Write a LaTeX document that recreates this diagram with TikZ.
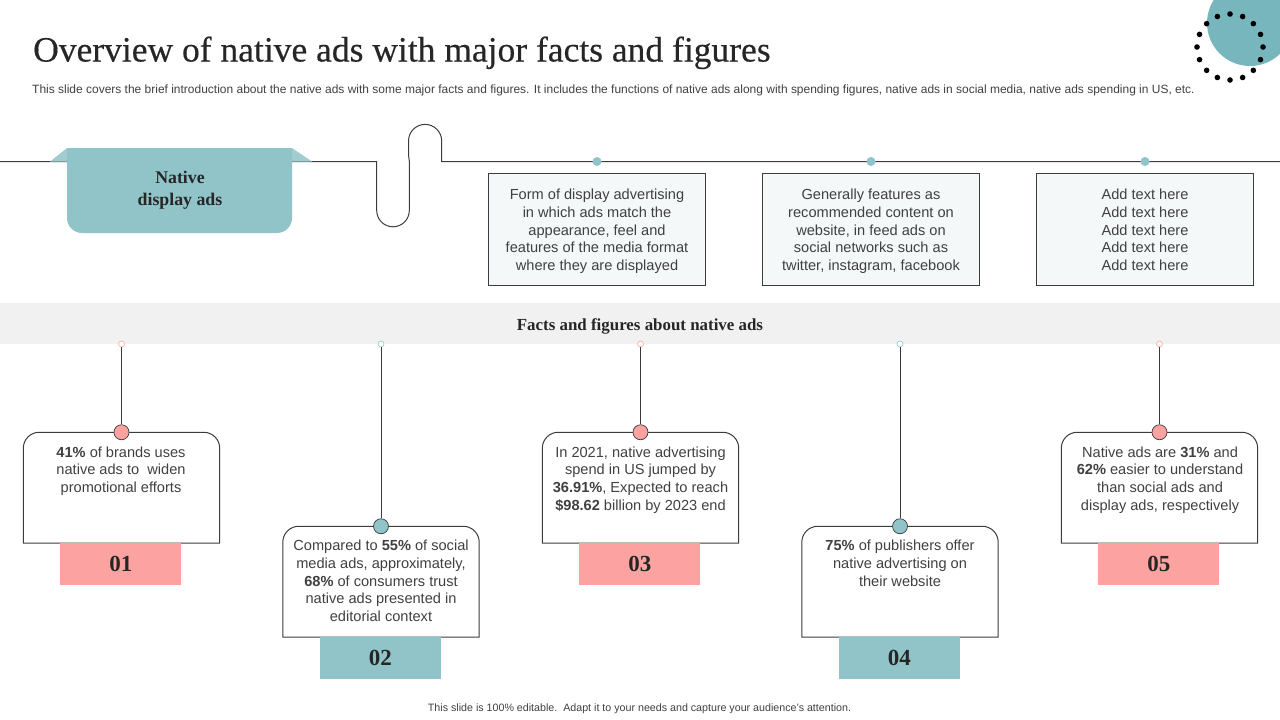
\documentclass[tikz,border=0pt]{standalone}
\usepackage{fontspec}
\setmainfont{Liberation Sans}
\newfontfamily\headfont[FakeBold=0.35]{Liberation Serif}
\newfontfamily\numfont{Liberation Serif}
\usetikzlibrary{positioning}
\definecolor{tealfill}{HTML}{90C4C8}
\definecolor{pinkfill}{HTML}{FCA3A1}
\definecolor{darkline}{HTML}{3C3C3C}
\definecolor{bodytext}{HTML}{404040}
\definecolor{headtext}{HTML}{262626}
\definecolor{bandfill}{HTML}{F1F1F1}
\definecolor{panelfill}{HTML}{F4F8F9}
\definecolor{blobfill}{HTML}{78B6BE}

\begin{document}
\begin{tikzpicture}[
x=1pt, y=-1pt,
wire/.style={draw=darkline, line width=1pt},
panel/.style={draw=darkline, fill=panelfill, line width=1pt, minimum width=217pt, minimum height=112pt, inner sep=0pt},
card/.style={minimum width=196pt, minimum height=110.5pt, inner sep=0pt},
bodynote/.style={align=center, text=bodytext, inner sep=0pt, font=\fontsize{14.6}{17.7}\selectfont},
tag/.style={minimum width=121pt, minimum height=42pt, inner sep=0pt, xshift=-0.7pt, font=\numfont\bfseries\fontsize{23}{23}\selectfont, text=headtext},
pintop/.style={circle, draw=#1, fill=white, line width=0.6pt, minimum size=6pt, inner sep=0pt},
pindot/.style={circle, draw=darkline, fill=#1, line width=0.7pt, minimum size=15pt, inner sep=0pt},
paneldot/.style={circle, fill=tealfill, minimum size=9pt, inner sep=0pt},
]
\useasboundingbox (0,0) rectangle (1280,720);

% Corner decoration
\begin{scope}
\clip (1180,0) rectangle (1280,100);
\fill[blobfill] (1250,23) circle (43);
\end{scope}
\foreach \a in {0,22.5,...,337.5}
  \fill[black] (1230,47) ++(\a:33) circle (2.8);

% Title and subtitle
\node[anchor=base west, inner sep=0pt, text=headtext, font=\headfont\fontsize{35.5}{36}\selectfont] (title) at (33,61.5) {Overview of native ads with major facts and figures};
\node[anchor=west, inner sep=0pt, text=bodytext, font=\fontsize{11.98}{14}\selectfont] (subtitle) at (32,90) {This slide covers the brief introduction about the native ads with some major facts and figures. It includes the functions of native ads along with spending figures, native ads in social media, native ads spending in US, etc.};

% Top wire
\coordinate (wirestart) at (0,161.5);
\coordinate (wireend) at (1280,161.5);
\draw[wire] (wirestart) -- (376.7,161.5) -- (376.7,210.5) arc[start angle=180, end angle=0, radius=16.3] -- (409.3,161) -- (408.5,155) -- (408.5,141) arc[start angle=180, end angle=360, radius=16.6] -- (441.7,161.5) -- (wireend);

% Ribbon
\fill[tealfill!85!white] (50,161.5) -- (67,148) -- (292,148) -- (312,161.5) -- cycle;
\fill[tealfill] (67,148) -- (292,148) -- (292,218) arc[start angle=0, end angle=90, radius=15] -- (82,233) arc[start angle=90, end angle=180, radius=15] -- cycle;
\node[align=center, text=headtext, inner sep=0pt, font=\numfont\bfseries\fontsize{17.8}{22}\selectfont] (ribbon) at (180,190.5) {Native\\display ads};

% Panels
\node[panel] (panel1) at (597,229.5) {};
\node[panel] (panel2) [right=56pt of panel1] {};
\node[panel] (panel3) [right=56pt of panel2] {};
\foreach \p in {panel1,panel2,panel3}
  \node[paneldot] at (\p.north |- wirestart) {};
\node[bodynote, anchor=north] (paneltext1) at ([yshift=-16pt]panel1.north) {Form of display advertising\\in which ads match the\\appearance, feel and\\features of the media format\\where they are displayed};
\node[bodynote, anchor=north] (paneltext2) at ([yshift=-16pt]panel2.north) {Generally features as\\recommended content on\\website, in feed ads on\\social networks such as\\twitter, instagram, facebook};
\node[bodynote, anchor=north] (paneltext3) at ([yshift=-16pt]panel3.north) {Add text here\\Add text here\\Add text here\\Add text here\\Add text here};

% Band
\fill[bandfill] (0,303) rectangle (1280,344);
\node[inner sep=0pt, text=headtext, font=\numfont\bfseries\fontsize{16.9}{17}\selectfont] (bandtitle) at (640,326) {Facts and figures about native ads};

% Cards
\node[card] (card1) at (121.5,487.7) {};
\node[card] (card2) at (381,581.7) {};
\node[card] (card3) at (640.5,487.7) {};
\node[card] (card4) at (900,581.7) {};
\node[card] (card5) at (1159.5,487.7) {};
\foreach \c in {card1,card2,card3,card4,card5}
  \draw[wire] (\c.south west) {[rounded corners=16pt] -- (\c.north west) -- (\c.north east)} -- (\c.south east) -- cycle;

% Card tags
\node[tag, fill=pinkfill] (tag1) [below=-0.5pt of card1] {01};
\node[tag, fill=tealfill] (tag2) [below=-0.5pt of card2] {02};
\node[tag, fill=pinkfill] (tag3) [below=-0.5pt of card3] {03};
\node[tag, fill=tealfill] (tag4) [below=-0.5pt of card4] {04};
\node[tag, fill=pinkfill] (tag5) [below=-0.5pt of card5] {05};

% Pins
\node[pintop=pinkfill] (top1) at (121.5,344) {};
\node[pintop=tealfill] (top2) at (381,344) {};
\node[pintop=pinkfill] (top3) at (640.5,344) {};
\node[pintop=tealfill] (top4) at (900,344) {};
\node[pintop=pinkfill] (top5) at (1159.5,344) {};
\node[pindot=pinkfill] (dot1) at (card1.north) {};
\node[pindot=tealfill] (dot2) at (card2.north) {};
\node[pindot=pinkfill] (dot3) at (card3.north) {};
\node[pindot=tealfill] (dot4) at (card4.north) {};
\node[pindot=pinkfill] (dot5) at (card5.north) {};
\foreach \i in {1,...,5}
  \draw[wire] (top\i) -- (dot\i);

% Card texts
\node[bodynote, anchor=north] (text1) at (121,446.5) {\textbf{41\%} of brands uses\\native ads to\ \ widen\\promotional efforts};
\node[bodynote, anchor=north] (text2) at (381,540) {Compared to \textbf{55\%} of social\\media ads, approximately,\\\textbf{68\%} of consumers trust\\native ads presented in\\editorial context};
\node[bodynote, anchor=north] (text3) at (640.5,446.5) {In 2021, native advertising\\spend in US jumped by\\\textbf{36.91\%}, Expected to reach\\\textbf{\$98.62} billion by 2023 end};
\node[bodynote, anchor=north] (text4) at (900,540) {\textbf{75\%} of publishers offer\\native advertising on\\their website};
\node[bodynote, anchor=north] (text5) at (1160,446.5) {Native ads are \textbf{31\%} and\\\textbf{62\%} easier to understand\\than social ads and\\display ads, respectively};

% Footer
\node[inner sep=0pt, text=bodytext, font=\fontsize{10.68}{12}\selectfont] (footer) at (639.5,708.5) {This slide is 100\% editable.\ \ Adapt it to your needs and capture your audience's attention.};

\end{tikzpicture}
\end{document}
